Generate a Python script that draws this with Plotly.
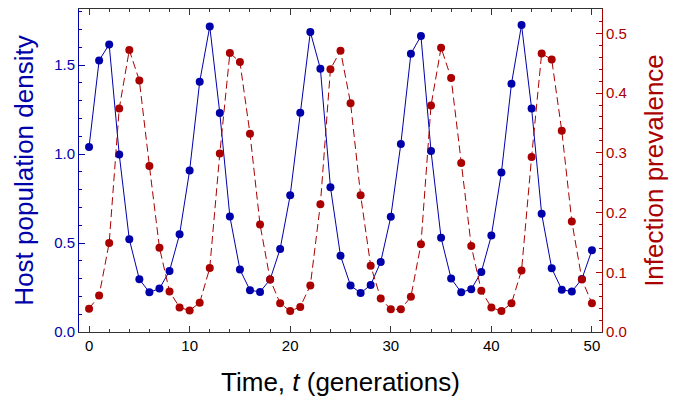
import plotly.graph_objects as go

t = list(range(51))
host = [1.040, 1.526, 1.616, 0.998, 0.521, 0.296, 0.223, 0.244, 0.343, 0.549,
        0.908, 1.406, 1.717, 1.230, 0.649, 0.351, 0.235, 0.225, 0.295, 0.467,
        0.769, 1.232, 1.686, 1.479, 0.814, 0.428, 0.261, 0.219, 0.264, 0.394,
        0.647, 1.057, 1.564, 1.663, 1.017, 0.529, 0.300, 0.223, 0.240, 0.337,
        0.542, 0.896, 1.395, 1.725, 1.256, 0.664, 0.358, 0.238, 0.227, 0.298,
        0.460]
prev = [0.039, 0.061, 0.149, 0.374, 0.472, 0.421, 0.278, 0.141, 0.068, 0.041,
        0.036, 0.049, 0.107, 0.299, 0.467, 0.452, 0.332, 0.180, 0.088, 0.048,
        0.035, 0.042, 0.078, 0.214, 0.440, 0.471, 0.383, 0.229, 0.111, 0.056,
        0.038, 0.038, 0.059, 0.147, 0.379, 0.476, 0.425, 0.283, 0.144, 0.069,
        0.041, 0.035, 0.048, 0.103, 0.293, 0.466, 0.456, 0.337, 0.185, 0.088,
        0.048]

BLUE = "#0000AA"
RED = "#AA0000"
FONT = "Liberation Sans, Arial, sans-serif"

fig = go.Figure()
fig.add_trace(go.Scatter(x=t, y=host, mode="lines+markers",
                         line=dict(color=BLUE, width=1),
                         marker=dict(color=BLUE, size=8), showlegend=False))
fig.add_trace(go.Scatter(x=t, y=prev, yaxis="y2", mode="lines+markers",
                         line=dict(color=RED, width=1, dash="8px,4px"),
                         marker=dict(color=RED, size=8), showlegend=False))

fig.update_layout(
    width=680, height=399,
    margin=dict(l=79, r=78, t=9, b=67),
    plot_bgcolor="white", paper_bgcolor="white",
    font=dict(family=FONT, size=15, color="black"),
    xaxis=dict(range=[-1, 51], tickvals=[0, 10, 20, 30, 40, 50],
               ticks="inside", ticklen=6, tickcolor="#333", tickwidth=1,
               minor=dict(dtick=2, tick0=0, ticks="inside", ticklen=3, tickcolor="#333"),
               showline=True, linecolor="#333", linewidth=1, mirror="ticks",
               showgrid=False, zeroline=False, automargin=False,
               tickfont=dict(size=15, color="black"),
               title=dict(text="Time, <i>t</i> (generations)", font=dict(size=26), standoff=19)),
    yaxis=dict(range=[0, 1.815], tickvals=[0, 0.5, 1.0, 1.5], ticktext=["0.0", "0.5", "1.0", "1.5"],
               ticks="inside", ticklen=6, tickcolor=BLUE,
               minor=dict(dtick=0.1, tick0=0, ticks="inside", ticklen=3, tickcolor=BLUE),
               showline=True, linecolor=BLUE, linewidth=1,
               showgrid=False, zeroline=False, automargin=False,
               tickfont=dict(size=15, color=BLUE),
               title=dict(text="Host population density", font=dict(size=26, color=BLUE), standoff=13)),
    yaxis2=dict(range=[0, 0.5407], overlaying="y", side="right",
                tickvals=[0, 0.1, 0.2, 0.3, 0.4, 0.5],
                ticktext=["0.0", "0.1", "0.2", "0.3", "0.4", "0.5"],
                ticks="inside", ticklen=6, tickcolor=RED,
                minor=dict(dtick=0.02, tick0=0, ticks="inside", ticklen=3, tickcolor=RED),
                showline=True, linecolor=RED, linewidth=1,
                showgrid=False, zeroline=False, automargin=False,
                tickfont=dict(size=15, color=RED),
                title=dict(text="Infection prevalence", font=dict(size=26, color=RED), standoff=18)),
)

fig.write_html("out.html", config={"displayModeBar": False},
               post_script="document.body.style.margin='0';document.body.style.overflow='hidden';")
